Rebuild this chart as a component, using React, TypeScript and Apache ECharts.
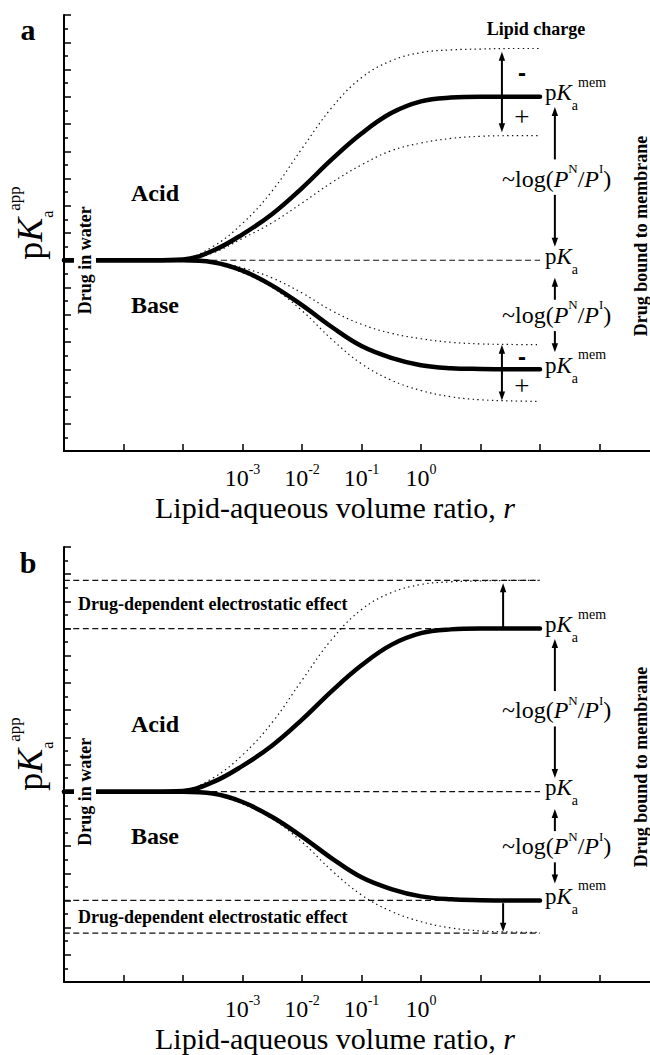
import React, { useEffect, useRef } from "react";
import * as echarts from "echarts";

// ---------- data (x = log10 r, y = pKa^app, arbitrary pK units) ----------
const logR = [-6, -5, -4.5, -4, -3.5, -3, -2.5, -2, -1.5, -1, -0.5, 0, 0.5, 1, 1.5, 2];
const acidBound = [7, 7, 7, 7.03, 7.35, 7.95, 8.7, 9.65, 10.7, 11.65, 12.4, 12.83, 12.97, 13.0, 13.0, 13.0];
const baseBound = [7, 7, 7, 7, 6.93, 6.62, 6.07, 5.35, 4.55, 3.85, 3.42, 3.15, 3.04, 3.01, 3.0, 3.0];

const chargeLogR = [-4.5, -4, -3.5, -3, -2.5, -2, -1.5, -1, -0.5, 0, 0.5, 1, 1.5, 2];
const acidNegLipid = [7, 7.05, 7.5, 8.35, 9.55, 11.1, 12.6, 13.7, 14.32, 14.62, 14.72, 14.75, 14.77, 14.77];
const acidPosLipid = [7, 7.03, 7.27, 7.8, 8.38, 9.1, 9.85, 10.5, 11.02, 11.3, 11.47, 11.55, 11.57, 11.57];
const baseNegLipid = [7, 7, 6.95, 6.72, 6.35, 5.8, 5.15, 4.65, 4.32, 4.12, 3.99, 3.93, 3.91, 3.9];
const basePosLipid = [7, 7, 6.9, 6.55, 6.0, 5.15, 4.1, 3.2, 2.6, 2.22, 1.99, 1.88, 1.84, 1.82];

const pKaWater = 7;
const pKaMemAcid = 13;
const pKaMemBase = 3;
const elecLevels = [14.77, 13, 3, 1.8];
const waterLineR = [-4, 2];
const elecLineR = [-6, 2];
const xLabelExponents = [-3, -2, -1, 0];

// arrows: [log r, from, to]
const chargeArrowsA = [[1.36, 13, 14.65], [1.36, 13, 11.7], [1.36, 3, 3.9], [1.36, 3, 1.85]];
const chargeArrowsB = [[1.38, 13, 14.67], [1.38, 2.9, 1.85]];
const partitionArrows = [[2.25, 10.7, 12.62], [2.25, 9.4, 7.5], [2.25, 5.55, 6.36], [2.25, 4.4, 3.62]];

const SERIF = "'Liberation Serif', 'Times New Roman', 'DejaVu Serif', serif";
const SANS = "'Liberation Sans', Arial, sans-serif";

const pair = (xs: number[], ys: number[]) => xs.map((x, i) => [x, ys[i]]);

const GRID_TOPS = [15, 547];
const GRID_H = [436, 435];

function lineSeries(gi: number, data: number[][], lineStyle: any, z: number) {
  return {
    type: "line",
    xAxisIndex: gi,
    yAxisIndex: gi,
    data,
    showSymbol: false,
    symbol: "none",
    smooth: 0.4,
    lineStyle,
    silent: true,
    z,
  };
}

function arrowSeries(gi: number, arrows: number[][]) {
  return {
    type: "custom",
    xAxisIndex: gi,
    yAxisIndex: gi,
    silent: true,
    clip: false,
    z: 6,
    data: arrows,
    encode: { x: 0, y: [1, 2] },
    renderItem: (_p: any, api: any) => {
      const a = api.coord([api.value(0), api.value(1)]);
      const b = api.coord([api.value(0), api.value(2)]);
      const dir = b[1] > a[1] ? 1 : -1;
      const hl = 9;
      const hw = 3.2;
      return {
        type: "group",
        children: [
          {
            type: "line",
            shape: { x1: a[0], y1: a[1], x2: b[0], y2: b[1] - dir * (hl - 2) },
            style: { stroke: "#000", lineWidth: 2 },
          },
          {
            type: "polygon",
            shape: {
              points: [
                [b[0], b[1]],
                [b[0] - hw, b[1] - dir * hl],
                [b[0] + hw, b[1] - dir * hl],
              ],
            },
            style: { fill: "#000" },
          },
        ],
      };
    },
  };
}

const thickStyle = { width: 4.5, color: "#000", cap: "round" };
const dotStyle = { width: 1.2, color: "#111", type: [1.4, 3.4] };
const dashStyle = { width: 1.2, color: "#111", type: [6, 3.5] };

function buildOption() {
  const grids = GRID_TOPS.map((t, i) => ({
    left: 64,
    top: t,
    width: 595,
    height: GRID_H[i],
    containLabel: false,
    outerBoundsMode: "none",
  }));
  const xAxes = [0, 1].map((gi) => ({
    type: "value",
    gridIndex: gi,
    min: -6,
    max: 4,
    interval: 1,
    axisLine: { show: true, onZero: false, lineStyle: { color: "#000", width: 2 } },
    axisTick: { show: true, inside: true, length: 7, lineStyle: { color: "#000", width: 1.5 } },
    splitLine: { show: false },
    axisLabel: {
      show: true,
      margin: 14,
      formatter: (v: number) => (xLabelExponents.indexOf(v) >= 0 ? `{b|10}{s|${v}}` : ""),
      rich: {
        b: { fontSize: 24, fontFamily: SERIF, color: "#000", lineHeight: 26 },
        s: { fontSize: 14, fontFamily: SERIF, color: "#000", verticalAlign: "top", height: 8 },
      },
    },
  }));
  const yAxes = [0, 1].map((gi) => ({
    type: "value",
    gridIndex: gi,
    min: 0,
    max: 16,
    interval: 1,
    axisLine: { show: true, onZero: false, lineStyle: { color: "#000", width: 2 } },
    axisTick: { show: true, inside: true, length: 7, lineStyle: { color: "#000", width: 1.5 } },
    minorTick: { show: true, splitNumber: 2, length: 4, lineStyle: { color: "#000", width: 1.5 } },
    splitLine: { show: false },
    minorSplitLine: { show: false },
    axisLabel: { show: false },
  }));

  const series: any[] = [];
  // panel a
  series.push(lineSeries(0, pair(waterLineR, [pKaWater, pKaWater]), dashStyle, 2));
  series.push(lineSeries(0, pair(chargeLogR, acidNegLipid), dotStyle, 3));
  series.push(lineSeries(0, pair(chargeLogR, acidPosLipid), dotStyle, 3));
  series.push(lineSeries(0, pair(chargeLogR, baseNegLipid), dotStyle, 3));
  series.push(lineSeries(0, pair(chargeLogR, basePosLipid), dotStyle, 3));
  series.push(lineSeries(0, pair(logR, acidBound), thickStyle, 5));
  series.push(lineSeries(0, pair(logR, baseBound), thickStyle, 5));
  series.push(arrowSeries(0, chargeArrowsA));
  series.push(arrowSeries(0, partitionArrows));
  // panel b
  series.push(lineSeries(1, pair(waterLineR, [pKaWater, pKaWater]), dashStyle, 2));
  elecLevels.forEach((lv) => series.push(lineSeries(1, pair(elecLineR, [lv, lv]), dashStyle, 2)));
  series.push(lineSeries(1, pair(chargeLogR, acidNegLipid), dotStyle, 3));
  series.push(lineSeries(1, pair(chargeLogR, basePosLipid), dotStyle, 3));
  series.push(lineSeries(1, pair(logR, acidBound), thickStyle, 5));
  series.push(lineSeries(1, pair(logR, baseBound), thickStyle, 5));
  series.push(arrowSeries(1, chargeArrowsB));
  series.push(arrowSeries(1, partitionArrows));

  return {
    animation: false,
    backgroundColor: "#fff",
    grid: grids,
    xAxis: xAxes,
    yAxis: yAxes,
    series,
  };
}

const pkRich = {
  n: { fontSize: 23, fontFamily: SERIF, lineHeight: 30, fill: "#000" },
  k: { fontSize: 23, fontFamily: SERIF, fontStyle: "italic", lineHeight: 30, fill: "#000" },
  sub: { fontSize: 14, fontFamily: SERIF, verticalAlign: "bottom", height: 4, fill: "#000" },
  sup: { fontSize: 14, fontFamily: SERIF, verticalAlign: "top", height: 9, fill: "#000" },
};
const logRich = {
  t: { fontSize: 24, fontFamily: SERIF, lineHeight: 30, fill: "#000" },
  i: { fontSize: 24, fontFamily: SERIF, fontStyle: "italic", lineHeight: 30, fill: "#000" },
  sup: { fontSize: 13, fontFamily: SERIF, verticalAlign: "top", height: 10, fill: "#000" },
};
const appRich = {
  n: { fontSize: 36, fontFamily: SERIF, lineHeight: 44, fill: "#000" },
  k: { fontSize: 36, fontFamily: SERIF, fontStyle: "italic", lineHeight: 44, fill: "#000" },
  sub: { fontSize: 16, fontFamily: SERIF, verticalAlign: "bottom", height: 9, fill: "#000" },
  sup: { fontSize: 17, fontFamily: SERIF, verticalAlign: "top", height: 12, fill: "#000" },
};

function plain(x: number, y: number, text: string, font: any, extra: any = {}) {
  return {
    type: "text",
    x,
    y,
    z: 100,
    silent: true,
    ...extra,
    style: {
      text,
      align: "center",
      verticalAlign: "middle",
      fontFamily: SERIF,
      ...font,
      fill: "#000",
    },
  };
}

function rich(x: number, y: number, text: string, richStyles: any, align = "left", extra: any = {}) {
  return {
    type: "text",
    x,
    y,
    z: 100,
    silent: true,
    ...extra,
    style: { text, rich: richStyles, align, verticalAlign: "middle", fill: "#000" },
  };
}

function buildGraphics(px: (gi: number, x: number, y: number) => number[]) {
  const g: any[] = [];
  const letters = ["a", "b"];
  const letterY = [29, 562];
  const offs = [0, 531];
  [0, 1].forEach((gi) => {
    const off = offs[gi];
    g.push(plain(28, letterY[gi], letters[gi], { fontSize: 30, fontWeight: "bold" }));
    // y axis title
    g.push(rich(30, 223 + off, "{n|p}{k|K}{sub|a}{sup|app}", appRich, "center", { rotation: Math.PI / 2 }));
    // Drug in water
    const w = px(gi, -6, pKaWater);
    g.push(
      plain(85, w[1], "Drug in water", {
        fontSize: 18,
        fontWeight: "bold",
        backgroundColor: "#fff",
        lineHeight: 22,
        padding: [0, 2],
      }, { rotation: Math.PI / 2 })
    );
    g.push(plain(155, 193 + off, "Acid", { fontSize: 24, fontWeight: "bold" }));
    g.push(plain(155, 305 + off, "Base", { fontSize: 24, fontWeight: "bold" }));
    g.push(plain(641, 236 + off, "Drug bound to membrane", { fontSize: 18, fontWeight: "bold", lineHeight: 18 }, { rotation: Math.PI / 2 }));
    g.push(rich(335, 507 + off, "{t|Lipid-aqueous volume ratio, }{i|r}", {
      t: { fontSize: 30, fontFamily: SERIF, fill: "#000" },
      i: { fontSize: 30, fontFamily: SERIF, fontStyle: "italic", fill: "#000" },
    }, "center"));
    // right-hand level labels
    const mA = px(gi, 2, pKaMemAcid);
    const wA = px(gi, 2, pKaWater);
    const mB = px(gi, 2, pKaMemBase);
    g.push(rich(mA[0] + 5, mA[1] - 4, "{n|p}{k|K}{sub|a}{sup|mem}", pkRich));
    g.push(rich(wA[0] + 5, wA[1] - 4, "{n|p}{k|K}{sub|a}", pkRich));
    g.push(rich(mB[0] + 5, mB[1] - 4, "{n|p}{k|K}{sub|a}{sup|mem}", pkRich));
    const lA = px(gi, 2.28, (pKaMemAcid + pKaWater) / 2);
    const lB = px(gi, 2.28, (pKaMemBase + pKaWater) / 2);
    const logText = "{t|~log(}{i|P}{sup|N}{t|/}{i|P}{sup|I}{t|)}";
    g.push(rich(lA[0], lA[1], logText, logRich, "center"));
    g.push(rich(lB[0], lB[1], logText, logRich, "center"));
  });

  // panel a: lipid charge signs
  g.push(plain(536, 29, "Lipid charge", { fontSize: 18, fontWeight: "bold" }));
  const s1 = px(0, 1.36, (acidNegLipid[acidNegLipid.length - 1] + pKaMemAcid) / 2);
  const s2 = px(0, 1.36, (acidPosLipid[acidPosLipid.length - 1] + pKaMemAcid) / 2);
  const s3 = px(0, 1.36, (baseNegLipid[baseNegLipid.length - 1] + pKaMemBase) / 2);
  const s4 = px(0, 1.36, (basePosLipid[basePosLipid.length - 1] + pKaMemBase) / 2);
  g.push(plain(s1[0] + 20, s1[1], "-", { fontSize: 24, fontWeight: "bold", fontFamily: SANS }));
  g.push(plain(s2[0] + 20, s2[1] + 1, "+", { fontSize: 27 }));
  g.push(plain(s3[0] + 20, s3[1], "-", { fontSize: 24, fontWeight: "bold", fontFamily: SANS }));
  g.push(plain(s4[0] + 20, s4[1] + 1, "+", { fontSize: 27 }));

  // panel b: electrostatic effect labels
  const e1 = px(1, -6, (elecLevels[0] + elecLevels[1]) / 2);
  const e2 = px(1, -6, (elecLevels[2] + elecLevels[3]) / 2);
  g.push(plain(78, e1[1] - 1, "Drug-dependent electrostatic effect", { fontSize: 18, fontWeight: "bold", align: "left" }));
  g.push(plain(78, e2[1], "Drug-dependent electrostatic effect", { fontSize: 18, fontWeight: "bold", align: "left" }));
  return g;
}

export default function App() {
  const ref = useRef<HTMLDivElement>(null);
  useEffect(() => {
    if (!ref.current) return;
    const chart = echarts.init(ref.current, null, { renderer: "svg" });
    chart.setOption(buildOption() as any);
    const px = (gi: number, x: number, y: number) =>
      chart.convertToPixel({ gridIndex: gi } as any, [x, y]) as number[];
    chart.setOption({ graphic: buildGraphics(px) } as any);
    return () => chart.dispose();
  }, []);
  return (
    <div
      ref={ref}
      style={{ position: "absolute", left: 0, top: 0, width: 650, height: 1055, background: "#fff" }}
    />
  );
}
